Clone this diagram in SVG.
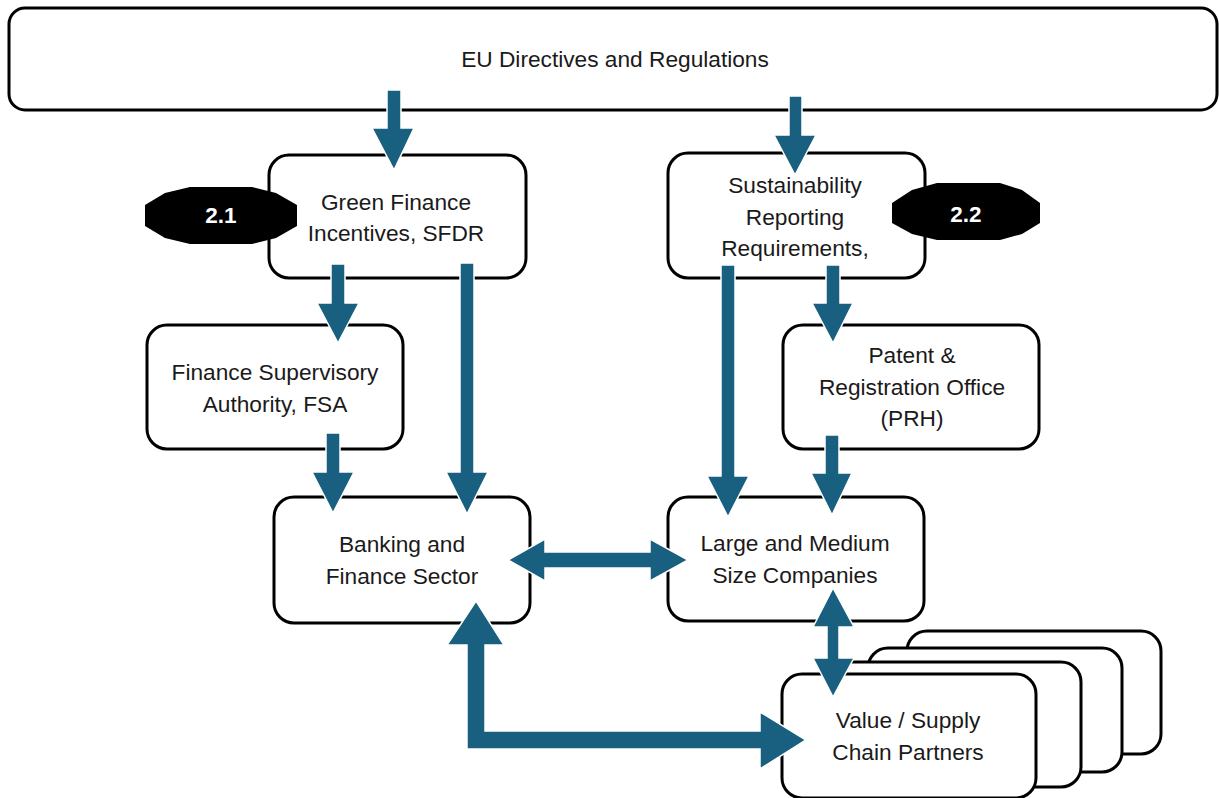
<svg xmlns="http://www.w3.org/2000/svg" width="1219" height="798" viewBox="0 0 1219 798">
<style>
.box{fill:#fff;stroke:#000;stroke-width:3}
.t{font-family:"Liberation Sans",Arial,sans-serif;font-size:22.7px;fill:#1a1a1a;text-anchor:middle}
.badge{fill:#000}
.bt{font-family:"Liberation Sans",Arial,sans-serif;font-size:22.5px;font-weight:bold;fill:#fff;text-anchor:middle}
.arr{fill:#185f80;stroke:#fff;stroke-width:1.5;stroke-linejoin:miter}
</style>
<rect width="1219" height="798" fill="#fff"/>
<g id="eu">
<rect class="box" x="9" y="8" width="1208" height="102" rx="16"/>
<text class="t" x="615" y="67">EU Directives and Regulations</text>
</g>
<g id="green">
<rect class="box" x="269" y="155" width="257" height="123" rx="20"/>
<text class="t" x="396" y="210">Green Finance</text>
<text class="t" x="396" y="241">Incentives, SFDR</text>
</g>
<g id="badge21">
<polygon class="badge" points="145,205 165,193 190,187 252,187 276,193 297,205 297,226 276,238 252,244 190,244 165,238 145,226"/>
<text class="bt" x="221" y="223">2.1</text>
</g>
<g id="sust">
<rect class="box" x="668" y="153" width="257" height="125" rx="20"/>
<text class="t" x="795" y="193">Sustainability</text>
<text class="t" x="795" y="225">Reporting</text>
<text class="t" x="795" y="256">Requirements,</text>
</g>
<g id="badge22">
<polygon class="badge" points="892,203 912,190 937,183 1000,183 1022,190 1040,203 1040,223 1022,234 1000,240 937,240 912,234 892,223"/>
<text class="bt" x="966" y="222">2.2</text>
</g>
<g id="fsa">
<rect class="box" x="147" y="325" width="256" height="124" rx="20"/>
<text class="t" x="275" y="380">Finance Supervisory</text>
<text class="t" x="275" y="412">Authority, FSA</text>
</g>
<g id="prh">
<rect class="box" x="783" y="325" width="256" height="124" rx="20"/>
<text class="t" x="912" y="363">Patent &amp;</text>
<text class="t" x="912" y="395">Registration Office</text>
<text class="t" x="912" y="426">(PRH)</text>
</g>
<g id="banking">
<rect class="box" x="274" y="497" width="256" height="126" rx="20"/>
<text class="t" x="402" y="552">Banking and</text>
<text class="t" x="402" y="584">Finance Sector</text>
</g>
<g id="large">
<rect class="box" x="668" y="497" width="256" height="124" rx="20"/>
<text class="t" x="795" y="551">Large and Medium</text>
<text class="t" x="795" y="583">Size Companies</text>
</g>
<g id="value">
<rect class="box" x="907" y="631" width="254" height="123" rx="20"/>
<rect class="box" x="868" y="648" width="254" height="124" rx="20"/>
<rect class="box" x="827" y="662" width="254" height="125" rx="20"/>
<rect class="box" x="782" y="674" width="254" height="124" rx="20"/>
<text class="t" x="908" y="728">Value / Supply</text>
<text class="t" x="908" y="760">Chain Partners</text>
</g>
<g id="connectors">
<polygon class="arr" points="387,90 401,90 401,128 414,128 394,170 372,128 387,128"/>
<polygon class="arr" points="789,96 802,96 802,135 816,135 795,175 774,135 789,135"/>
<polygon class="arr" points="331,264 345,264 345,303 359,303 338,343 317,303 331,303"/>
<polygon class="arr" points="460,263 474,263 474,472 488,472 467,514 446,472 460,472"/>
<polygon class="arr" points="326,433 340,433 340,472 354,472 333,513 312,472 326,472"/>
<polygon class="arr" points="721,265 735,265 735,476 749,476 728,517 707,476 721,476"/>
<polygon class="arr" points="826,265 840,265 840,303 853,303 833,343 812,303 826,303"/>
<polygon class="arr" points="825,435 839,435 839,473 852,473 832,515 811,473 825,473"/>
<polygon class="arr" points="508,560 545,539 545,552 650,552 650,539 688,560 650,581 650,568 545,568 545,581"/>
<polygon class="arr" points="833,588 854,627 839,627 839,658 854,658 833,697 813,658 827,658 827,627 813,627"/>
<polygon class="arr" points="476,601 504,645 485,645 485,731 760,731 760,712 806,740 760,769 760,749 467,749 467,645 447,645"/>
</g>
</svg>
